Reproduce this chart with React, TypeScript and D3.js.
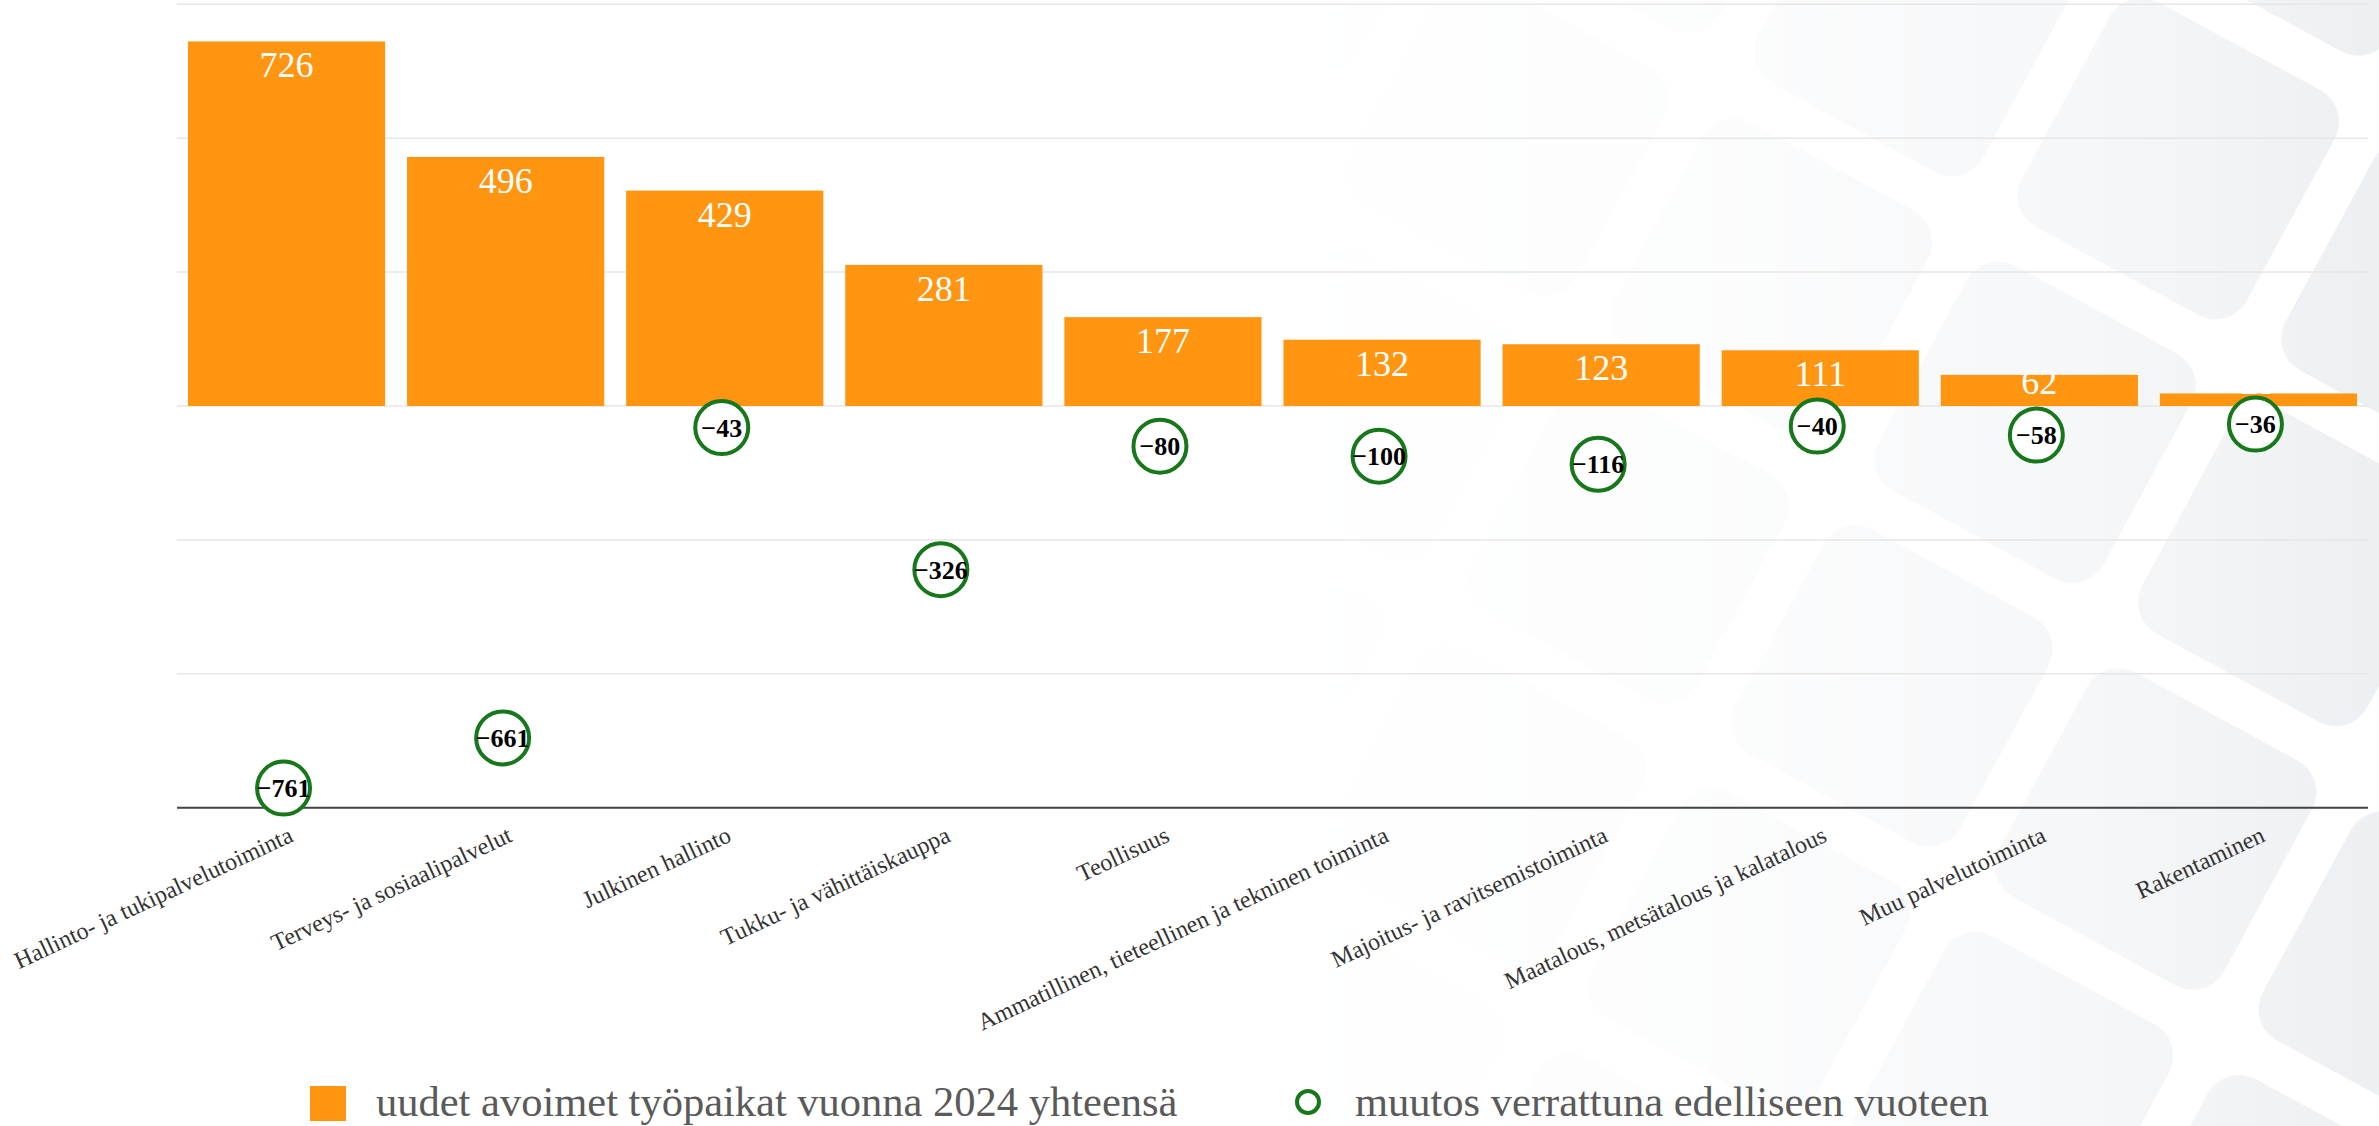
import React, { useEffect } from "react";
import * as d3 from "d3";

const categories = [
  "Hallinto- ja tukipalvelutoiminta",
  "Terveys- ja sosiaalipalvelut",
  "Julkinen hallinto",
  "Tukku- ja vähittäiskauppa",
  "Teollisuus",
  "Ammatillinen, tieteellinen ja tekninen toiminta",
  "Majoitus- ja ravitsemistoiminta",
  "Maatalous, metsätalous ja kalatalous",
  "Muu palvelutoiminta",
  "Rakentaminen",
];
const openings = [726, 496, 429, 281, 177, 132, 123, 111, 62, 25];
const changes = [-761, -661, -43, -326, -80, -100, -116, -40, -58, -36];
const yTicks = [-800, -533.33, -266.67, 0, 266.67, 533.33, 800];
const legendLabels = [
  "uudet avoimet työpaikat vuonna 2024 yhteensä",
  "muutos verrattuna edelliseen vuoteen",
];

const W = 2379;
const H = 1126;
const M = { left: 177, right: 2368, top: 4.3, bottom: 807.7 };
const FONT = "Georgia, 'Liberation Serif', 'DejaVu Serif', serif";
const ORANGE = "#ff9511";
const GREEN = "#16781a";

const fmt = (v: number) => String(v).replace("-", "\u2212");

export default function App() {
  useEffect(() => {
    document.body.style.margin = "0";
    document.body.style.overflow = "hidden";
  }, []);

  const x = d3
    .scaleBand<string>()
    .domain(categories)
    .range([M.left, M.right])
    .paddingInner(0.1)
    .paddingOuter(0.05);
  const y = d3.scaleLinear().domain([-800, 800]).range([M.bottom, M.top]);
  const y0 = y(0);

  return (
    <svg width={W} height={H} style={{ display: "block", background: "#fff" }}>
      <defs>
        <pattern
          id="tiles"
          patternUnits="userSpaceOnUse"
          width={300}
          height={300}
          x={40}
          y={150}
          patternTransform="rotate(28.5)"
        >
          <rect x={22} y={22} width={256} height={256} rx={36} fill="#e3e7eb" />
        </pattern>
        <linearGradient id="fade" x1="0" x2="1" y1="0" y2="0">
          <stop offset="0" stopColor="#fff" stopOpacity={0} />
          <stop offset="0.4" stopColor="#fff" stopOpacity={0.1} />
          <stop offset="0.75" stopColor="#fff" stopOpacity={0.35} />
          <stop offset="1" stopColor="#fff" stopOpacity={0.65} />
        </linearGradient>
        <mask id="fadeMask" maskUnits="userSpaceOnUse" x={0} y={0} width={W} height={H}>
          <rect x={1250} y={0} width={W - 1250} height={H} fill="url(#fade)" />
        </mask>
      </defs>

      <rect x={1250} y={0} width={W - 1250} height={H} fill="url(#tiles)" mask="url(#fadeMask)" />

      {/* gridlines */}
      <g>
        {yTicks.map((t) => (
          <line
            key={t}
            x1={M.left}
            x2={M.right}
            y1={y(t)}
            y2={y(t)}
            stroke="#e6e6e6"
            strokeWidth={1.5}
          />
        ))}
      </g>

      {/* bars */}
      <g>
        {categories.map((c, i) => (
          <rect
            key={c}
            x={x(c)}
            y={y(openings[i])}
            width={x.bandwidth()}
            height={y0 - y(openings[i])}
            fill={ORANGE}
          />
        ))}
      </g>

      {/* bar labels */}
      <g fontFamily={FONT} fontSize={36} fill="#fff" textAnchor="middle">
        {categories.map((c, i) => (
          <text
            key={c}
            x={(x(c) as number) + x.bandwidth() / 2}
            y={Math.min(y(openings[i]) + 36, y0 - 12)}
          >
            {openings[i]}
          </text>
        ))}
      </g>

      {/* x axis line */}
      <line x1={M.left} x2={M.right} y1={M.bottom} y2={M.bottom} stroke="#444" strokeWidth={2} />

      {/* change markers */}
      <g>
        {categories.map((c, i) => {
          const cx = (x(c) as number) + x.bandwidth() / 2 - 3;
          const cy = y(changes[i]);
          return (
            <g key={c}>
              <circle cx={cx} cy={cy} r={26.5} fill="#fff" stroke={GREEN} strokeWidth={4} />
              <text
                x={cx}
                y={cy}
                dy="0.35em"
                textAnchor="middle"
                fontFamily={FONT}
                fontWeight="bold"
                fontSize={26}
                fill="#000"
              >
                {fmt(changes[i])}
              </text>
            </g>
          );
        })}
      </g>

      {/* x axis labels */}
      <g fontFamily={FONT} fontSize={24} fill="#333">
        {categories.map((c) => {
          const px = (x(c) as number) + x.bandwidth() / 2 + 8;
          const py = M.bottom + 33;
          return (
            <text key={c} x={px} y={py} textAnchor="end" transform={`rotate(-25, ${px}, ${py})`}>
              {c}
            </text>
          );
        })}
      </g>

      {/* legend */}
      <g fontFamily={FONT} fontSize={42.5} fill="#5a5a5a">
        <rect x={310} y={1086} width={36} height={35} fill={ORANGE} />
        <text x={376} y={1116}>
          {legendLabels[0]}
        </text>
        <circle cx={1308} cy={1102} r={11} fill="none" stroke={GREEN} strokeWidth={4} />
        <text x={1355} y={1116}>
          {legendLabels[1]}
        </text>
      </g>
    </svg>
  );
}
